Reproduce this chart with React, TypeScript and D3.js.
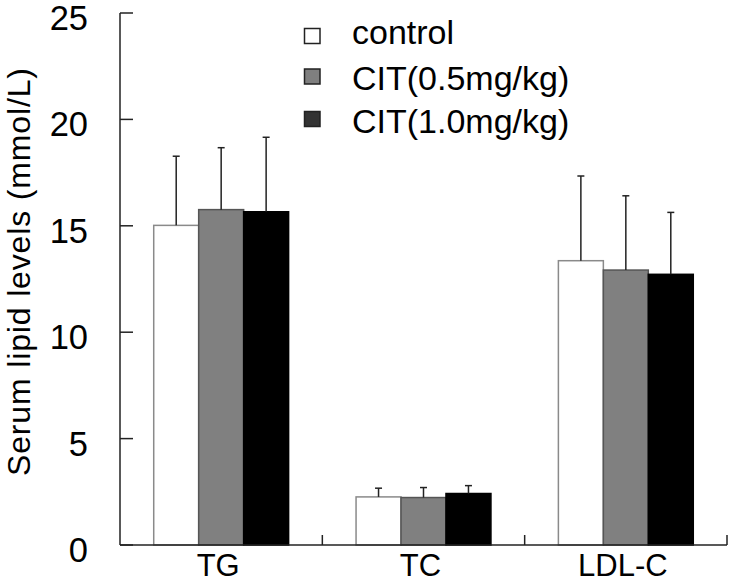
import React from "react";
import * as d3 from "d3";

const categories = ["TG", "TC", "LDL-C"];
const seriesNames = ["control", "CIT(0.5mg/kg)", "CIT(1.0mg/kg)"];
const controlMeans = [15.02, 2.26, 13.36];
const controlSD = [3.25, 0.41, 3.98];
const cit05Means = [15.76, 2.23, 12.92];
const cit05SD = [2.91, 0.47, 3.49];
const cit10Means = [15.66, 2.42, 12.72];
const cit10SD = [3.5, 0.37, 2.91];
const yTicks = [0, 5, 10, 15, 20, 25];

const W = 729;
const H = 583;
const FONT = "Arial, 'Liberation Sans', Helvetica, sans-serif";

export default function App() {
  const x0 = d3.scaleBand<string>().domain(categories).range([120, 727]).padding(0);
  const x1 = d3
    .scaleBand<string>()
    .domain(seriesNames)
    .range([0, x0.bandwidth()])
    .paddingInner(0)
    .paddingOuter(0.75);
  const y = d3.scaleLinear().domain([0, 25]).range([545, 13]);

  const means = [controlMeans, cit05Means, cit10Means];
  const sds = [controlSD, cit05SD, cit10SD];
  const fills = ["#ffffff", "#808080", "#000000"];
  const strokes = ["#8a8a8a", "#555555", "#000000"];
  const legendFills = ["#ffffff", "#7f7f7f", "#333333"];
  const legendY = [36, 76.5, 119];
  const legendBase = [44, 90, 133];

  const bw = x1.bandwidth();

  return (
    <svg
      width={W}
      height={H}
      style={{ position: "absolute", left: 0, top: 0, background: "#fff" }}
      fontFamily={FONT}
    >
      {/* bars */}
      {categories.map((c, ci) =>
        seriesNames.map((s, si) => {
          const xb = (x0(c) as number) + (x1(s) as number);
          const v = means[si][ci];
          return (
            <rect
              key={c + s}
              x={xb}
              y={y(v)}
              width={bw}
              height={y(0) - y(v)}
              fill={fills[si]}
              stroke={strokes[si]}
              strokeWidth={1.5}
            />
          );
        })
      )}
      {/* error bars */}
      {categories.map((c, ci) =>
        seriesNames.map((s, si) => {
          const cx = (x0(c) as number) + (x1(s) as number) + bw / 2;
          const v = means[si][ci];
          const top = y(v + sds[si][ci]);
          return (
            <g key={"e" + c + s} stroke="#222" strokeWidth={1.5}>
              <line x1={cx} x2={cx} y1={y(v)} y2={top} />
              <line x1={cx - 3.5} x2={cx + 3.5} y1={top} y2={top} />
            </g>
          );
        })
      )}
      {/* y axis */}
      <line x1={120} x2={120} y1={y(25)} y2={y(0)} stroke="#222" strokeWidth={1.5} />
      {yTicks.map((t) => (
        <g key={"yt" + t}>
          <line x1={120} x2={133} y1={y(t)} y2={y(t)} stroke="#222" strokeWidth={1.5} />
          <text x={88} y={y(t) + 17} fontSize={34.5} textAnchor="end" fill="#000">
            {t}
          </text>
        </g>
      ))}
      {/* x axis */}
      <line x1={120} x2={727} y1={y(0)} y2={y(0)} stroke="#222" strokeWidth={1.5} />
      {categories.map((c) => {
        const xe = (x0(c) as number) + x0.bandwidth();
        return (
          <line key={"xt" + c} x1={xe} x2={xe} y1={y(0)} y2={y(0) - 10} stroke="#222" strokeWidth={1.5} />
        );
      })}
      {categories.map((c) => (
        <text
          key={"xl" + c}
          x={(x0(c) as number) + x0.bandwidth() / 2 - 3}
          y={576}
          fontSize={31}
          textAnchor="middle"
          fill="#000"
        >
          {c}
        </text>
      ))}
      {/* y label */}
      <text
        transform={`translate(29.5,272) rotate(-90)`}
        fontSize={32}
        textAnchor="middle"
        textLength={408}
        lengthAdjust="spacing"
        fill="#000"
      >
        Serum lipid levels (mmol/L)
      </text>
      {/* legend */}
      {seriesNames.map((s, i) => (
        <g key={"lg" + s}>
          <rect
            x={304.5}
            y={legendY[i] - 7.5}
            width={15.5}
            height={15}
            fill={legendFills[i]}
            stroke="#222"
            strokeWidth={1.5}
          />
          <text x={352} y={legendBase[i]} fontSize={34} fill="#000">
            {s}
          </text>
        </g>
      ))}
    </svg>
  );
}
